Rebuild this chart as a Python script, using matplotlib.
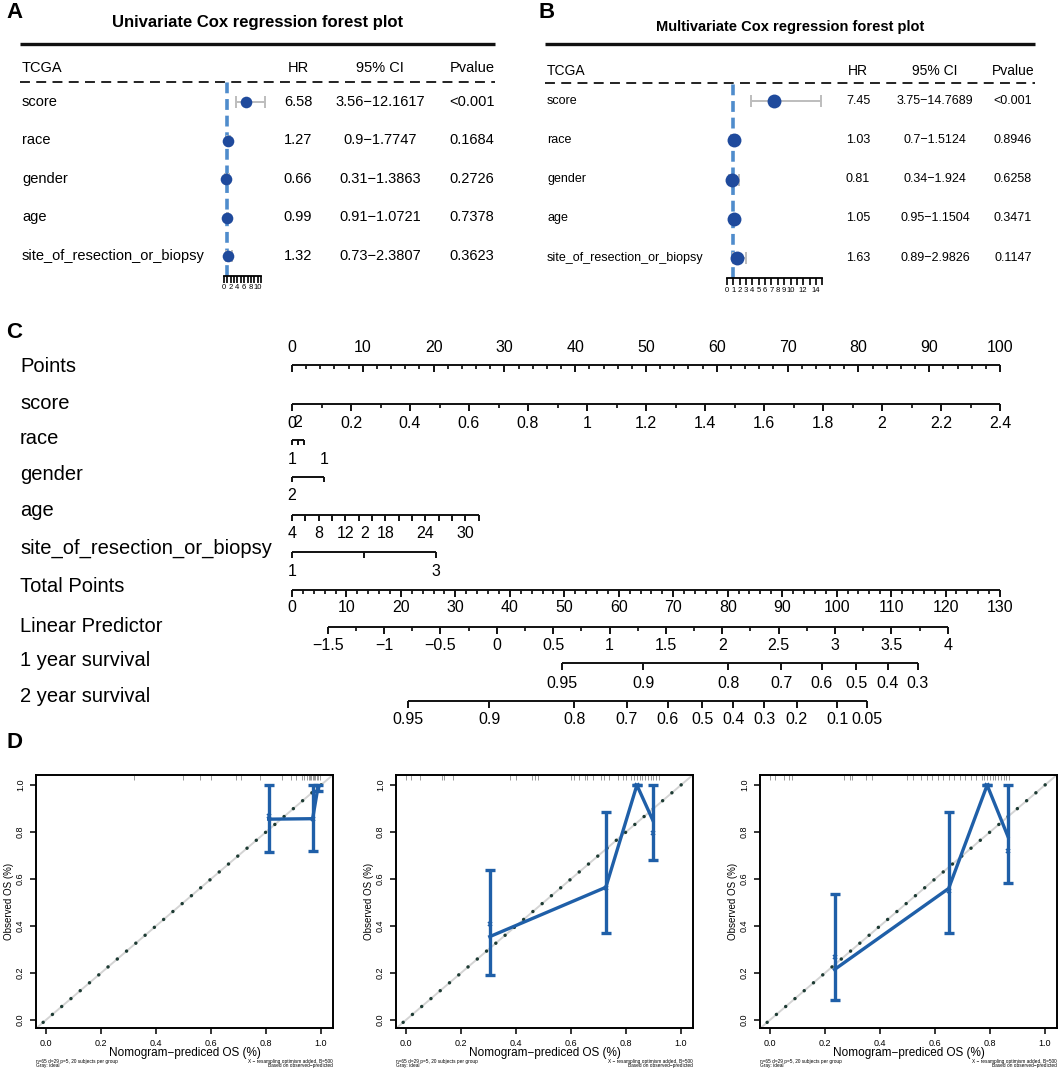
import numpy as np
import matplotlib
matplotlib.use('Agg')
import matplotlib.pyplot as plt
from matplotlib.transforms import blended_transform_factory

plt.rcParams['font.family'] = ['Liberation Sans', 'DejaVu Sans']

# ---------------- data: forest plots ----------------
variables = ['score', 'race', 'gender', 'age', 'site_of_resection_or_biopsy']
uni_hr = [6.58, 1.27, 0.66, 0.99, 1.32]
uni_lo = [3.56, 0.9, 0.31, 0.91, 0.73]
uni_hi = [12.1617, 1.7747, 1.3863, 1.0721, 2.3807]
uni_p = ['<0.001', '0.1684', '0.2726', '0.7378', '0.3623']
multi_hr = [7.45, 1.03, 0.81, 1.05, 1.63]
multi_lo = [3.75, 0.7, 0.34, 0.95, 0.89]
multi_hi = [14.7689, 1.5124, 1.924, 1.1504, 2.9826]
multi_p = ['<0.001', '0.8946', '0.6258', '0.3471', '0.1147']
uni_axis_ticks = list(range(0, 12))
uni_axis_labels = [0, 2, 4, 6, 8, 10]
multi_axis_ticks = list(range(0, 16))
multi_axis_labels = [0, 1, 2, 3, 4, 5, 6, 7, 8, 9, 10, 12, 14]

# ---------------- data: nomogram ----------------
points_major = np.arange(0, 101, 10)
points_minor = np.arange(0, 101, 2)
score_major = np.round(np.arange(0, 2.41, 0.2), 1)
score_minor = np.round(np.arange(0, 2.41, 0.1), 2)
score_max = 2.4
race_levels = ['1', '2', '']
race_points = [0.0, 0.8, 1.7]
race_label_side = ['below', 'above', 'below']
gender_levels = ['2', '1']
gender_points = [0.0, 4.5]
gender_label_side = ['below', 'above']
age_ticks = np.arange(4, 33, 2)
age_labels = [4, 8, 12, 18, 24, 30]
age_points_per_year = 0.942
site_levels = ['1', '2', '3']
site_points = [0.0, 10.2, 20.3]
site_label_side = ['below', 'above', 'below']
total_major = np.arange(0, 131, 10)
total_minor = np.arange(0, 131, 2)
total_max = 130
lp_major = np.arange(-1.5, 4.01, 0.5)
lp_minor = np.arange(-1.5, 4.01, 0.25)
lp_intercept_tp = 37.6
lp_slope_tp = 20.7
surv1_labels = ['0.95', '0.9', '0.8', '0.7', '0.6', '0.5', '0.4', '0.3']
surv1_tp = [49.6, 64.5, 80.1, 89.8, 97.3, 103.6, 109.4, 114.9]
surv2_labels = ['0.95', '0.9', '0.8', '0.7', '0.6', '0.5', '0.4', '0.3', '0.2', '0.1', '0.05']
surv2_tp = [21.3, 36.2, 51.8, 61.5, 69.0, 75.3, 81.0, 86.7, 92.7, 100.1, 105.6]

# ---------------- data: calibration ----------------
cal1_pred = [0.81, 0.97, 0.99]
cal1_obs = [0.855, 0.857, 0.995]
cal1_lo = [0.715, 0.72, 0.975]
cal1_hi = [1.0, 1.0, 1.0]
cal1_corr = [0.87, 0.855, 0.985]
cal1_rug = [0.32, 0.50, 0.56, 0.60, 0.69, 0.71, 0.78, 0.86, 0.89, 0.91, 0.93, 0.94,
            0.95, 0.955, 0.96, 0.965, 0.97, 0.975, 0.98, 0.985, 0.99, 0.995]
cal2_pred = [0.305, 0.727, 0.84, 0.898]
cal2_obs = [0.355, 0.565, 1.0, 0.85]
cal2_lo = [0.19, 0.37, 1.0, 0.68]
cal2_hi = [0.64, 0.885, 1.0, 1.0]
cal2_corr = [0.41, 0.56, 1.0, 0.795]
cal2_rug = [0.0, 0.02, 0.05, 0.13, 0.14, 0.17, 0.38, 0.40, 0.46, 0.47, 0.48, 0.60, 0.61,
            0.63, 0.65, 0.66, 0.68, 0.71, 0.72, 0.74, 0.77, 0.79, 0.80, 0.82, 0.83, 0.84,
            0.85, 0.86, 0.87, 0.88, 0.89, 0.90, 0.91, 0.92]
cal3_pred = [0.235, 0.65, 0.79, 0.866]
cal3_obs = [0.215, 0.56, 1.0, 0.78]
cal3_lo = [0.085, 0.37, 1.0, 0.585]
cal3_hi = [0.535, 0.885, 1.0, 1.0]
cal3_corr = [0.27, 0.55, 1.0, 0.72]
cal3_rug = [0.0, 0.02, 0.05, 0.07, 0.08, 0.27, 0.29, 0.30, 0.35, 0.37, 0.50, 0.52, 0.55,
            0.57, 0.59, 0.61, 0.63, 0.65, 0.67, 0.69, 0.71, 0.73, 0.75, 0.77, 0.78, 0.79,
            0.80, 0.81, 0.82, 0.83, 0.84, 0.85, 0.86, 0.87]
cal_ticks = [0.0, 0.2, 0.4, 0.6, 0.8, 1.0]

# ---------------- figure ----------------
W, H = 1059, 1070
fig = plt.figure(figsize=(W / 100, H / 100), dpi=100)


def px_axes(x0, y0, x1, y1, z=1):
    ax = fig.add_axes([x0 / W, 1 - y1 / H, (x1 - x0) / W, (y1 - y0) / H])
    ax.patch.set_alpha(0)
    ax.set_zorder(z)
    return ax


ov = fig.add_axes([0, 0, 1, 1])
ov.set_xlim(0, W)
ov.set_ylim(H, 0)
ov.axis('off')
ov.set_zorder(0)

BLUE = '#1f4a9c'
REFBLUE = '#4f8ccc'
BLACK = '#111111'


def forest(letter_xy, letter, title, title_xy, title_fs, line_x, thick_y, head_y, dash_y,
           col_x, row_y, hr, lo, hi, pv, head_fs, row_fs, rect, hr0_px, ppu,
           ticks, tick_labels, ms, axlab_fs, axlab_pad):
    ov.text(*letter_xy, letter, fontsize=16, fontweight='bold', ha='left', va='center')
    ov.text(*title_xy, title, fontsize=title_fs, fontweight='bold', ha='center', va='center')
    ov.plot(line_x, [thick_y, thick_y], color=BLACK, lw=2.4, solid_capstyle='butt')
    ov.plot(line_x, [dash_y, dash_y], color=BLACK, lw=1.3, ls=(0, (5.5, 3.5)))
    ov.text(col_x[0], head_y, 'TCGA', fontsize=head_fs, ha='left', va='center')
    for x, h in zip(col_x[1:], ['HR', '95% CI', 'Pvalue']):
        ov.text(x, head_y, h, fontsize=head_fs, ha='center', va='center')
    for i, v in enumerate(variables):
        y = row_y[i]
        ov.text(col_x[0], y, v, fontsize=row_fs, ha='left', va='center')
        ov.text(col_x[1], y, f'{hr[i]:.2f}', fontsize=row_fs, ha='center', va='center')
        ov.text(col_x[2], y, f'{lo[i]}\u2212{hi[i]}', fontsize=row_fs, ha='center', va='center')
        ov.text(col_x[3], y, pv[i], fontsize=row_fs, ha='center', va='center')

    x0, y0, x1, y1 = rect
    ax = px_axes(x0, y0, x1, y1, z=2)
    ax.set_xlim((x0 - hr0_px) / ppu, (x1 - hr0_px) / ppu)
    sp = (row_y[-1] - row_y[0]) / (len(row_y) - 1)
    ax.set_ylim((y1 - row_y[0]) / sp, (y0 - row_y[0]) / sp)
    idx = np.arange(len(hr))
    hr_a, lo_a, hi_a = np.array(hr), np.array(lo), np.array(hi)
    ax.plot([1, 1], [(y1 - row_y[0]) / sp, (y0 - row_y[0]) / sp], color=REFBLUE, lw=2.6,
            ls=(0, (3, 1.6)), zorder=1)
    ax.errorbar(hr_a, idx, xerr=[hr_a - lo_a, hi_a - hr_a], fmt='none', ecolor='#bdbdbd',
                elinewidth=1.4, capsize=4, capthick=1.4, zorder=2)
    ax.scatter(hr_a, idx, s=ms, color=BLUE, zorder=3, linewidths=0)
    for s in ['top', 'right', 'left']:
        ax.spines[s].set_visible(False)
    ax.spines['bottom'].set_bounds(ticks[0], ticks[-1])
    ax.spines['bottom'].set_linewidth(1.3)
    ax.set_yticks([])
    ax.set_xticks(ticks)
    ax.set_xticklabels([str(t) if t in tick_labels else '' for t in ticks])
    ax.tick_params(axis='x', direction='out', length=5, width=1.2, labelsize=axlab_fs,
                   pad=axlab_pad)


forest((6, 12), 'A', 'Univariate Cox regression forest plot', (258, 23), 12,
       [20, 495], 44, 68, 82, [22, 298, 380, 472], [102, 140, 179, 217, 256],
       uni_hr, uni_lo, uni_hi, uni_p, 10.5, 10.5, (200, 82, 292, 276), 224, 3.37,
       uni_axis_ticks, uni_axis_labels, 70, 5.5, 1)

forest((538, 12), 'B', 'Multivariate Cox regression forest plot', (790, 27), 10.5,
       [545, 1035], 44, 71, 83, [547, 858, 935, 1013], [101, 140, 179, 218, 258],
       multi_hr, multi_lo, multi_hi, multi_p, 10, 9, (700, 83, 835, 278), 727, 6.35,
       multi_axis_ticks, multi_axis_labels, 100, 5.5, 1.5)

# ---------------- nomogram ----------------
ov.text(6, 333, 'C', fontsize=16, fontweight='bold', ha='left', va='center')
ov.text(6, 742, 'D', fontsize=16, fontweight='bold', ha='left', va='center')

axn = px_axes(0, 325, W, 735, z=2)
X0_PX, PX_PER_PT = 292, 7.08
axn.set_xlim(-X0_PX / PX_PER_PT, (W - X0_PX) / PX_PER_PT)
axn.set_ylim(735, 325)
axn.axis('off')
NFS = 11.5
RFS = 14.5
LW = 1.4


def nomo(y, major_x, labels, minor_x=(), sides=None, ab=18, be=19, tick=6.5, mtick=3.5):
    allx = list(major_x) + list(minor_x)
    axn.plot([min(allx), max(allx)], [y, y], color=BLACK, lw=LW, solid_capstyle='butt')
    for x in major_x:
        axn.plot([x, x], [y, y + tick], color=BLACK, lw=LW, solid_capstyle='butt')
    for x in minor_x:
        axn.plot([x, x], [y, y + mtick], color=BLACK, lw=LW * 0.9, solid_capstyle='butt')
    if sides is None:
        sides = ['below'] * len(labels)
    for x, lab, sd in zip(major_x, labels, sides):
        if lab == '':
            continue
        yy = y - ab if sd == 'above' else y + be
        axn.text(x, yy, lab, fontsize=NFS, ha='center', va='center')


def fmt(v):
    s = f'{v:g}'
    return s.replace('-', '\u2212')


row_names = ['Points', 'score', 'race', 'gender', 'age', 'site_of_resection_or_biopsy',
             'Total Points', 'Linear Predictor', '1 year survival', '2 year survival']
row_label_y = [366, 403, 438, 475, 511, 548, 587, 626, 661, 697]
row_line_y = [365, 404, 440, 477, 515, 552, 590, 627, 663, 701]
lab_tr = blended_transform_factory(axn.transAxes, axn.transData)
for nm, yy in zip(row_names, row_label_y):
    axn.text(20 / W, yy, nm, fontsize=RFS, ha='left', va='center', transform=lab_tr)

# Points axis (labels above)
nomo(row_line_y[0], points_major, [fmt(v) for v in points_major],
     minor_x=[v for v in points_minor if v not in points_major],
     sides=['above'] * len(points_major))
# score
sc_pts = score_major / score_max * 100
sc_min = [v / score_max * 100 for v in score_minor if not np.any(np.isclose(v, score_major))]
nomo(row_line_y[1], sc_pts, [fmt(v) for v in score_major], minor_x=sc_min)
# race
nomo(row_line_y[2], race_points, race_levels, sides=race_label_side, tick=5)
# gender
nomo(row_line_y[3], gender_points, gender_levels, sides=gender_label_side, tick=5)
# age
age_pts = (age_ticks - age_ticks[0]) * age_points_per_year
nomo(row_line_y[4], age_pts, [str(a) if a in age_labels else '' for a in age_ticks], tick=6)
# site
nomo(row_line_y[5], site_points, site_levels, sides=site_label_side, tick=6)
# total points
tp_scale = 100 / total_max
nomo(row_line_y[6], total_major * tp_scale, [fmt(v) for v in total_major],
     minor_x=[v * tp_scale for v in total_minor if v not in total_major], be=17)
# linear predictor
lp_x = (lp_intercept_tp + lp_slope_tp * lp_major) * tp_scale
lp_mx = [(lp_intercept_tp + lp_slope_tp * v) * tp_scale for v in lp_minor
         if not np.any(np.isclose(v, lp_major))]
nomo(row_line_y[7], lp_x, [fmt(v) for v in lp_major], minor_x=lp_mx)
# survival
nomo(row_line_y[8], np.array(surv1_tp) * tp_scale, surv1_labels, be=20)
nomo(row_line_y[9], np.array(surv2_tp) * tp_scale, surv2_labels, be=19)

# ---------------- calibration ----------------
CBLUE = '#1f5fa8'
cal_sets = [
    (0, cal1_pred, cal1_obs, cal1_lo, cal1_hi, cal1_corr, cal1_rug),
    (360, cal2_pred, cal2_obs, cal2_lo, cal2_hi, cal2_corr, cal2_rug),
    (724, cal3_pred, cal3_obs, cal3_lo, cal3_hi, cal3_corr, cal3_rug),
]
for off, pred, obs, lo, hi, corr, rug in cal_sets:
    ax = px_axes(36 + off, 775, 333 + off, 1028, z=2)
    ax.set_xlim(-0.036, 1.044)
    ax.set_ylim(-0.034, 1.043)
    ax.plot([-0.05, 1.06], [-0.05, 1.06], color='#d4d4d4', lw=1.4, zorder=1)
    ax.plot([-0.01, 1.03], [-0.01, 1.03], color='#1d3b33', lw=2.5,
            ls=(0, (0.01, 3.5)), dash_capstyle='round', zorder=2)
    ax.vlines(rug, 1.022, 1.043, color='#8a8a8a', lw=0.6, zorder=1)
    p, o, l, h = map(np.array, (pred, obs, lo, hi))
    ax.plot(p, o, color=CBLUE, lw=2.4, zorder=3)
    ax.errorbar(p, o, yerr=[o - l, h - o], fmt='none', ecolor=CBLUE, elinewidth=2.4,
                capsize=3.5, capthick=2.4, zorder=3)
    ax.plot(p, corr, 'x', color=CBLUE, ms=3.5, mew=1.2, zorder=4)
    for s in ax.spines.values():
        s.set_linewidth(1.4)
    ax.set_xticks(cal_ticks)
    ax.set_yticks(cal_ticks)
    ax.set_xticklabels([f'{t:.1f}' for t in cal_ticks], fontsize=6.5)
    ax.set_yticklabels([f'{t:.1f}' for t in cal_ticks], fontsize=6.5, rotation=90, va='center')
    ax.tick_params(direction='out', length=4, width=1.1, pad=4)
    ax.set_ylabel('Observed OS (%)', fontsize=7, labelpad=1)
    cx = (36 + 333) / 2 + off
    ov.text(cx, 1053, 'Nomogram\u2212prediced OS (%)', fontsize=8.5, ha='center', va='center')
    ov.text(36 + off, 1061, 'n=65 d=29 p=5, 20 subjects per group', fontsize=3.4,
            ha='left', va='center')
    ov.text(36 + off, 1066, 'Gray: ideal', fontsize=3.4, ha='left', va='center')
    ov.text(333 + off, 1061, 'X \u2212 resampling optimism added, B=500', fontsize=3.4,
            ha='right', va='center')
    ov.text(333 + off, 1066, 'Based on observed\u2212predicted', fontsize=3.4,
            ha='right', va='center')

fig.savefig('out.png', dpi=100)
